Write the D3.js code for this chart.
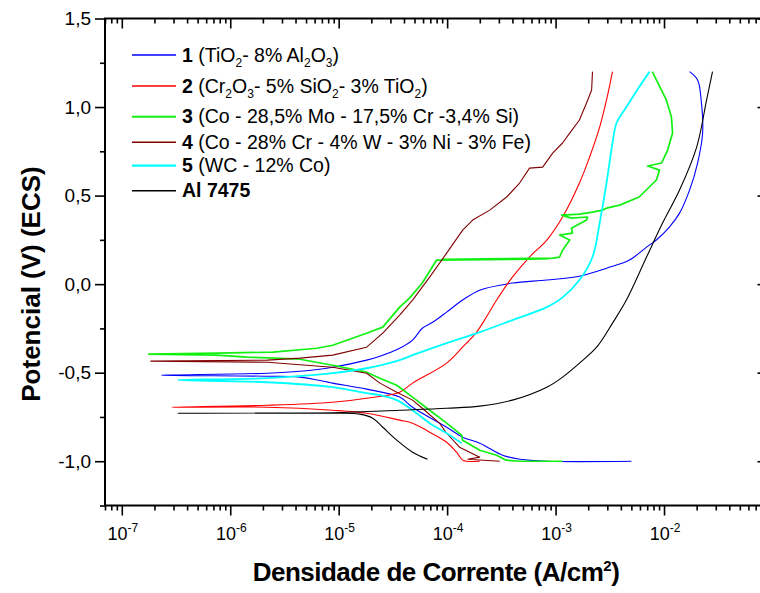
<!DOCTYPE html>
<html>
<head>
<meta charset="utf-8">
<script src="https://cdn.jsdelivr.net/npm/d3@7"></script>
<style>
  body { margin: 0; background: #fff; }
  svg { display: block; font-family: Arial, "Liberation Sans", sans-serif; }
</style>
</head>
<body>
<svg id="chart" width="760" height="593"></svg>
<script>
// tick values
var currentTicks = [1e-7, 1e-6, 1e-5, 1e-4, 1e-3, 1e-2];
var potentialTicks = [-1.0, -0.5, 0.0, 0.5, 1.0, 1.5];
var potentialMinor = [-1.25, -0.75, -0.25, 0.25, 0.75, 1.25];

// curves: [current density (A/cm2), potential (V)]
var tio2 = [[5.0e-3,-1.0],[8.3e-4,-1.0],[4.7e-4,-0.989],[3.25e-4,-0.966],[2.0e-4,-0.898],[1.39e-4,-0.864],
  [9.9e-5,-0.808],[4.8e-5,-0.695],[3.65e-5,-0.638],[1.81e-5,-0.593],[8.8e-6,-0.559],[4.4e-6,-0.525],
  [2.2e-6,-0.520],[2.3e-7,-0.514],[2.2e-6,-0.503],[4.4e-6,-0.492],[8.8e-6,-0.469],[1.81e-5,-0.429],
  [2.4e-5,-0.407],[3.65e-5,-0.362],[4.8e-5,-0.316],[5.9e-5,-0.249],[7.35e-5,-0.215],[9.9e-5,-0.158],
  [1.39e-4,-0.090],[2.0e-4,-0.034],[4.0e-4,0.006],[8.3e-4,0.023],[1.66e-3,0.045],[2.95e-3,0.090],
  [4.8e-3,0.136],[6.9e-3,0.209],[8.5e-3,0.249],[1.12e-2,0.322],[1.39e-2,0.401],[1.72e-2,0.531],
  [2.04e-2,0.684],[2.27e-2,0.853],[2.2e-2,1.04],[2.04e-2,1.153],[1.72e-2,1.20]];

var cr2o3 = [[2.0e-4,-1.0],[1.51e-4,-1.0],[1.39e-4,-0.994],[1.22e-4,-0.949],[9.9e-5,-0.893],[6.9e-5,-0.836],
  [4.8e-5,-0.785],[3.65e-5,-0.768],[1.81e-5,-0.729],[8.8e-6,-0.712],[2.2e-6,-0.695],[2.9e-7,-0.695],
  [2.2e-6,-0.684],[8.8e-6,-0.667],[1.81e-5,-0.644],[3.65e-5,-0.610],[4.8e-5,-0.559],[9.9e-5,-0.446],
  [1.39e-4,-0.356],[1.87e-4,-0.271],[2.3e-4,-0.186],[2.86e-4,-0.090],[4.0e-4,0.040],[5.75e-4,0.153],
  [8.3e-4,0.249],[1.16e-3,0.379],[1.66e-3,0.571],[2.06e-3,0.718],[2.55e-3,0.887],[2.95e-3,1.04],
  [3.35e-3,1.20]];

var coMo = [[1.16e-3,-1.0],[4.7e-4,-1.0],[3.5e-4,-0.994],[2.86e-4,-0.966],[2.0e-4,-0.938],[1.39e-4,-0.881],
  [1.36e-4,-0.853],[9.9e-5,-0.785],[6.9e-5,-0.712],[4.8e-5,-0.638],[3.43e-5,-0.571],[2.4e-5,-0.531],
  [1.81e-5,-0.497],[8.8e-6,-0.458],[4.4e-6,-0.424],[1.42e-6,-0.412],[7.5e-7,-0.401],[1.77e-7,-0.395],
  [7.5e-7,-0.390],[2.47e-6,-0.384],[6.3e-6,-0.362],[8.8e-6,-0.345],[1.81e-5,-0.277],[2.55e-5,-0.243],
  [3.65e-5,-0.130],[4.5e-5,-0.079],[5.9e-5,0.006],[8.0e-5,0.136],[8.5e-4,0.142],[9.0e-5,0.140],
  [9.4e-4,0.147],[1.09e-3,0.153],[1.16e-3,0.192],[1.35e-3,0.249],[1.09e-3,0.277],[1.43e-3,0.288],
  [1.40e-3,0.316],[1.93e-3,0.362],[1.97e-3,0.379],[1.40e-3,0.373],[1.14e-3,0.390],[1.66e-3,0.395],
  [2.19e-3,0.407],[2.71e-3,0.418],[2.95e-3,0.429],[3.9e-3,0.446],[5.9e-3,0.492],[8.5e-3,0.588],
  [9.1e-3,0.644],[7.05e-3,0.667],[9.5e-3,0.684],[1.01e-2,0.718],[1.08e-2,0.757],[1.20e-2,0.853],
  [1.17e-2,0.944],[1.05e-2,1.04],[8.5e-3,1.153],[7.8e-3,1.20]];

var coCr = [[3.05e-4,-1.0],[1.55e-4,-0.989],[2.0e-4,-0.977],[1.30e-4,-0.921],[9.9e-5,-0.842],[8.5e-5,-0.785],
  [5.9e-5,-0.701],[4.8e-5,-0.655],[3.43e-5,-0.610],[2.4e-5,-0.559],[1.81e-5,-0.503],[8.8e-6,-0.469],
  [2.2e-6,-0.441],[1.85e-7,-0.435],[2.2e-6,-0.429],[4.4e-6,-0.418],[8.8e-6,-0.401],[1.81e-5,-0.356],
  [2.55e-5,-0.277],[3.65e-5,-0.175],[4.8e-5,-0.090],[6.9e-5,0.040],[9.9e-5,0.175],[1.39e-4,0.305],
  [1.72e-4,0.362],[2.47e-4,0.418],[3.54e-4,0.492],[4.66e-4,0.571],[5.75e-4,0.655],[7.6e-4,0.661],
  [9.4e-4,0.740],[1.16e-3,0.797],[1.35e-3,0.853],[1.66e-3,0.927],[1.93e-3,1.023],[2.15e-3,1.096],
  [2.19e-3,1.20]];

var wcCo = [[1.36e-4,-0.898],[9.9e-5,-0.842],[6.9e-5,-0.785],[4.8e-5,-0.712],[3.43e-5,-0.655],[2.4e-5,-0.627],
  [1.81e-5,-0.616],[8.8e-6,-0.582],[2.2e-6,-0.554],[3.3e-7,-0.542],[2.2e-6,-0.531],[8.8e-6,-0.503],
  [1.81e-5,-0.475],[3.65e-5,-0.429],[4.8e-5,-0.401],[9.9e-5,-0.333],[2.0e-4,-0.271],[4.0e-4,-0.203],
  [8.3e-4,-0.130],[1.14e-3,-0.079],[1.66e-3,0.023],[2.19e-3,0.153],[2.55e-3,0.345],[2.95e-3,0.571],
  [3.35e-3,0.797],[3.65e-3,0.910],[4.5e-3,1.0],[5.9e-3,1.113],[7.35e-3,1.20]];

var al7475 = [[6.6e-5,-0.989],[4.8e-5,-0.949],[3.43e-5,-0.881],[2.55e-5,-0.808],[2.06e-5,-0.757],[1.56e-5,-0.734],
  [8.8e-6,-0.729],[3.3e-7,-0.729],[8.8e-6,-0.726],[3.65e-5,-0.712],[9.9e-5,-0.701],[2.0e-4,-0.689],
  [4.0e-4,-0.655],[8.3e-4,-0.582],[1.16e-3,-0.525],[1.66e-3,-0.446],[2.39e-3,-0.356],[3.35e-3,-0.220],
  [4.5e-3,-0.090],[6.9e-3,0.153],[9.7e-3,0.345],[1.39e-2,0.531],[2.0e-2,0.774],[2.47e-2,1.04],
  [2.8e-2,1.20]];

// legend labels, split in pieces (b = bold, s = subscript)
var legendLabels = [
  [["1","b"],[" (TiO"],["2","s"],["- 8% Al"],["2","s"],["O"],["3","s"],[")"]],
  [["2","b"],[" (Cr"],["2","s"],["O"],["3","s"],["- 5% SiO"],["2","s"],["- 3% TiO"],["2","s"],[")"]],
  [["3","b"],[" (Co - 28,5% Mo - 17,5% Cr -3,4% Si)"]],
  [["4","b"],[" (Co - 28% Cr - 4% W - 3% Ni - 3% Fe)"]],
  [["5","b"],[" (WC - 12% Co)"]],
  [["Al 7475","b"]]
];

var series = [
  { data: tio2,   color: "#0000ff", width: 1.1, smooth: true },
  { data: cr2o3,  color: "#ff0000", width: 1.1, smooth: true },
  { data: coMo,   color: "#11f011", width: 1.7, smooth: false },
  { data: coCr,   color: "#800000", width: 1.1, smooth: false },
  { data: wcCo,   color: "#00ffff", width: 1.8, smooth: true },
  { data: al7475, color: "#000000", width: 1.1, smooth: true }
];
var legendRowY = [55, 86, 116.7, 142.3, 165.7, 190.7];

var svg = d3.select("#chart");

var plotLeft = 105, plotRight = 767.5, plotTop = 18.5, plotBottom = 505.5;

var x = d3.scaleLog().domain([7e-8, 0.09]).range([plotLeft, plotRight]);
var y = d3.scaleLinear().domain([-1.25, 1.5]).range([plotBottom, plotTop]);

var xMinor = x.ticks().filter(function(v) {
  return currentTicks.every(function(t) { return Math.abs(t - v) / t > 1e-6; });
});

function styleAxis(g) {
  g.select(".domain").remove();
  g.selectAll(".tick line").attr("stroke", "#000").attr("stroke-width", 1.6);
}

function addAxis(axis, tx, ty, values, size) {
  svg.append("g").attr("transform", "translate(" + tx + "," + ty + ")")
    .call(axis.tickValues(values).tickSize(size).tickFormat(""))
    .call(styleAxis);
}

// bottom axis: ticks outward, top axis: ticks inward
addAxis(d3.axisBottom(x), 0, plotBottom, currentTicks, 10);
addAxis(d3.axisBottom(x), 0, plotBottom, xMinor, 5);
addAxis(d3.axisBottom(x), 0, plotTop, currentTicks, 10);
addAxis(d3.axisBottom(x), 0, plotTop, xMinor, 5);
// left axis: ticks outward, right axis: ticks inward
addAxis(d3.axisLeft(y), plotLeft, 0, potentialTicks, 10);
addAxis(d3.axisLeft(y), plotLeft, 0, potentialMinor, 5);
addAxis(d3.axisLeft(y), plotRight, 0, potentialTicks, 10);
addAxis(d3.axisLeft(y), plotRight, 0, potentialMinor, 5);

// frame
svg.append("rect")
  .attr("x", plotLeft).attr("y", plotTop)
  .attr("width", plotRight - plotLeft).attr("height", plotBottom - plotTop)
  .attr("fill", "none").attr("stroke", "#000").attr("stroke-width", 2);

// y tick labels
svg.append("g").selectAll("text")
  .data(potentialTicks)
  .enter().append("text")
  .attr("x", plotLeft - 14)
  .attr("y", function(d) { return y(d) + 6.5; })
  .attr("text-anchor", "end")
  .attr("font-size", 19)
  .text(function(d) { return d3.format(".1f")(d).replace(".", ",").replace("\u2212", "-"); });

// x tick labels 10^n
var xl = svg.append("g").selectAll("text")
  .data(currentTicks)
  .enter().append("text")
  .attr("x", function(d) { return x(d) + 1; })
  .attr("y", 540)
  .attr("text-anchor", "middle")
  .attr("font-size", 18);
xl.append("tspan").text("10");
xl.append("tspan").attr("dy", -8).attr("font-size", 12)
  .text(function(d) { return String(Math.round(Math.log10(d))); });

// axis titles
var xt = svg.append("text")
  .attr("x", 436).attr("y", 581)
  .attr("text-anchor", "middle")
  .attr("font-size", 26).attr("font-weight", "bold")
  .attr("letter-spacing", -0.5);
xt.append("tspan").text("Densidade de Corrente (A/cm");
xt.append("tspan").attr("dy", -10).attr("font-size", 15).text("2");
xt.append("tspan").attr("dy", 10).text(")");

svg.append("text")
  .attr("transform", "translate(40,284) rotate(-90)")
  .attr("text-anchor", "middle")
  .attr("font-size", 26).attr("font-weight", "bold")
  .text("Potencial (V) (ECS)");

// curves
var lineSmooth = d3.line()
  .x(function(d) { return x(d[0]); })
  .y(function(d) { return y(d[1]); })
  .curve(d3.curveCatmullRom.alpha(0.5));
var lineRaw = d3.line()
  .x(function(d) { return x(d[0]); })
  .y(function(d) { return y(d[1]); });

svg.append("g").selectAll("path")
  .data(series)
  .enter().append("path")
  .attr("d", function(s) { return s.smooth ? lineSmooth(s.data) : lineRaw(s.data); })
  .attr("fill", "none")
  .attr("stroke", function(s) { return s.color; })
  .attr("stroke-width", function(s) { return s.width; })
  .attr("stroke-linejoin", "round");

// legend
var legend = svg.append("g");
series.forEach(function(s, i) {
  var ly = legendRowY[i];
  legend.append("line")
    .attr("x1", 132).attr("x2", 176)
    .attr("y1", ly).attr("y2", ly)
    .attr("stroke", s.color)
    .attr("stroke-width", s.width + 0.4);

  var t = legend.append("text")
    .attr("x", 182).attr("y", ly + 6.5)
    .attr("font-size", 19.5);
  var shift = 0;
  legendLabels[i].forEach(function(p) {
    var ts = t.append("tspan").text(p[0]);
    var want = p[1] === "s" ? 5 : 0;
    if (want !== shift) { ts.attr("dy", want - shift); shift = want; }
    if (p[1] === "b") ts.attr("font-weight", "bold");
    if (p[1] === "s") ts.attr("font-size", 12);
  });
});
</script>
</body>
</html>
